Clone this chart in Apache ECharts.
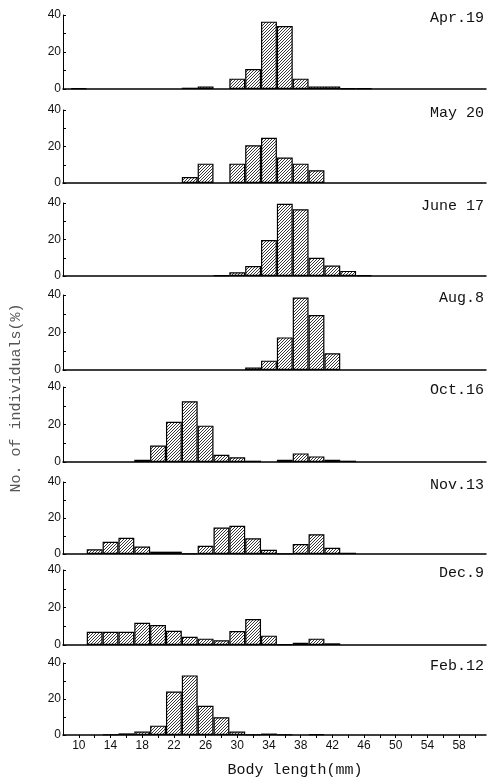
<!DOCTYPE html>
<html>
<head>
<meta charset="utf-8">
<script src="https://cdn.jsdelivr.net/npm/echarts@6/dist/echarts.min.js"></script>
<style>
html,body{margin:0;padding:0;background:#fff;}
#chart{width:491px;height:779px;}
</style>
</head>
<body>
<div id="chart"></div>
<script>
// ---- data (bin centres in mm, % of individuals) ----
const bins   = [10, 12, 14, 16, 18, 20, 22, 24, 26, 28, 30, 32, 34, 36, 38, 40, 42, 44, 46];
const apr19  = [0.3, 0, 0, 0, 0, 0, 0, 0.7, 1.4, 0, 5.6, 10.8, 36.4, 34, 5.6, 1.4, 1.4, 0.3, 0.3];
const may20  = [0, 0, 0, 0, 0, 0, 0, 3.3, 10.6, 0, 10.6, 20.7, 24.8, 14, 10.6, 7, 0, 0, 0];
const june17 = [0, 0, 0, 0, 0, 0, 0, 0, 0, 0.4, 2, 5.5, 19.7, 39.6, 36.6, 10, 5.7, 2.8, 0.5];
const aug8   = [0, 0, 0, 0, 0, 0, 0, 0, 0, 0, 0, 1.4, 5, 17.4, 38.7, 29.3, 8.9, 0, 0];
const oct16  = [0, 0, 0, 0, 1.2, 8.8, 21.5, 32.4, 19.4, 3.9, 2.5, 0.7, 0, 1.2, 4.6, 3, 1.2, 0.7, 0];
const nov13  = [0, 2.6, 6.8, 9, 4.2, 1.3, 1.3, 0.3, 4.6, 14.7, 15.7, 8.7, 2.4, 0.3, 5.5, 11, 3.5, 0.7, 0];
const dec9   = [0, 7.1, 7.1, 7.1, 11.9, 10.7, 7.6, 4.4, 3.4, 2.5, 7.5, 13.9, 5, 0.4, 1.2, 3.4, 0.9, 0, 0];
const feb12  = [0, 0, 0.3, 0.9, 1.9, 5.2, 24.2, 33.1, 16.2, 9.9, 1.9, 0.3, 0.8, 0.3, 0, 0.5, 0, 0, 0];
const samples = [apr19, may20, june17, aug8, oct16, nov13, dec9, feb12];
const sampleLabels = ['Apr.19', 'May 20', 'June 17', 'Aug.8', 'Oct.16', 'Nov.13', 'Dec.9', 'Feb.12'];
const xTickValues  = [10, 12, 14, 16, 18, 20, 22, 24, 26, 28, 30, 32, 34, 36, 38, 40, 42, 44, 46, 48, 50, 52, 54, 56, 58, 60];
const xTickLabels  = [10, 14, 18, 22, 26, 30, 34, 38, 42, 46, 50, 54, 58];
const yTickLabels  = [0, 20, 40];
const xName = 'Body length(mm)';
const yName = 'No. of individuals(%)';

// ---- layout ----
const panelTops    = [15, 110, 203, 295, 387, 482, 570, 663];
const panelBottoms = [89, 183, 276, 370, 462, 554, 645, 735];
const gridLeft = 63, gridWidth = 423, xMin = 8, xMax = 61.4;
const pxPerMm = gridWidth / (xMax - xMin);

// hatch pattern
const P = 3;
const pc = document.createElement('canvas');
pc.width = P; pc.height = P;
const g = pc.getContext('2d');
g.fillStyle = '#fff'; g.fillRect(0, 0, P, P);
g.strokeStyle = '#222'; g.lineWidth = 0.9;
g.beginPath();
g.moveTo(0, P); g.lineTo(P, 0);
g.moveTo(-1, 1); g.lineTo(1, -1);
g.moveTo(P - 1, P + 1); g.lineTo(P + 1, P - 1);
g.stroke();
const hatch = { image: pc, repeat: 'repeat' };

const n = samples.length;
const grids = [], xAxes = [], yAxes = [], series = [], graphics = [];
for (let i = 0; i < n; i++) {
  const last = i === n - 1;
  grids.push({ left: gridLeft, width: gridWidth, top: panelTops[i], height: panelBottoms[i] - panelTops[i] });
  xAxes.push({
    type: 'value', gridIndex: i, min: xMin, max: xMax,
    axisLine: { show: true, lineStyle: { color: '#000', width: 1.5 } },
    axisTick: last ? { show: true, customValues: xTickValues, length: 3, lineStyle: { color: '#000' } } : { show: false },
    axisLabel: last ? { show: true, customValues: xTickLabels, margin: 5, color: '#111', fontSize: 12, fontFamily: 'Liberation Sans' } : { show: false },
    splitLine: { show: false }
  });
  yAxes.push({
    type: 'value', gridIndex: i, min: 0, max: 40, interval: 10,
    axisLine: { show: true, lineStyle: { color: '#000', width: 1 } },
    axisTick: { show: true, inside: true, length: 3, lineStyle: { color: '#000' } },
    axisLabel: { show: true, margin: 2, color: '#111', fontSize: 12, fontFamily: 'Liberation Sans',
      formatter: v => (yTickLabels.indexOf(v) >= 0 ? String(v) : '') },
    splitLine: { show: false }
  });
  const data = [];
  bins.forEach((b, j) => { if (samples[i][j] > 0) data.push([b, samples[i][j]]); });
  series.push({
    type: 'bar', xAxisIndex: i, yAxisIndex: i, data: data,
    barWidth: 2 * pxPerMm, silent: true,
    itemStyle: { color: hatch, borderColor: '#000', borderWidth: 1.2 }
  });
  graphics.push({
    type: 'text', x: 484, y: panelTops[i] + 3,
    style: { text: sampleLabels[i], textAlign: 'right', textVerticalAlign: 'middle',
      font: '15px "Liberation Mono"', fill: '#111' }
  });
}
graphics.push({
  type: 'text', x: 295, y: 770,
  style: { text: xName, textAlign: 'center', textVerticalAlign: 'middle', font: '15px "Liberation Mono"', fill: '#111' }
});
graphics.push({
  type: 'text', x: 16, y: 398, rotation: Math.PI / 2,
  style: { text: yName, textAlign: 'center', textVerticalAlign: 'middle', font: '15px "Liberation Mono"', fill: '#555' }
});

const chart = echarts.init(document.getElementById('chart'), null, { renderer: 'canvas' });
chart.setOption({
  backgroundColor: '#fff',
  animation: false,
  grid: grids, xAxis: xAxes, yAxis: yAxes, series: series, graphic: graphics
});
</script>
</body>
</html>
